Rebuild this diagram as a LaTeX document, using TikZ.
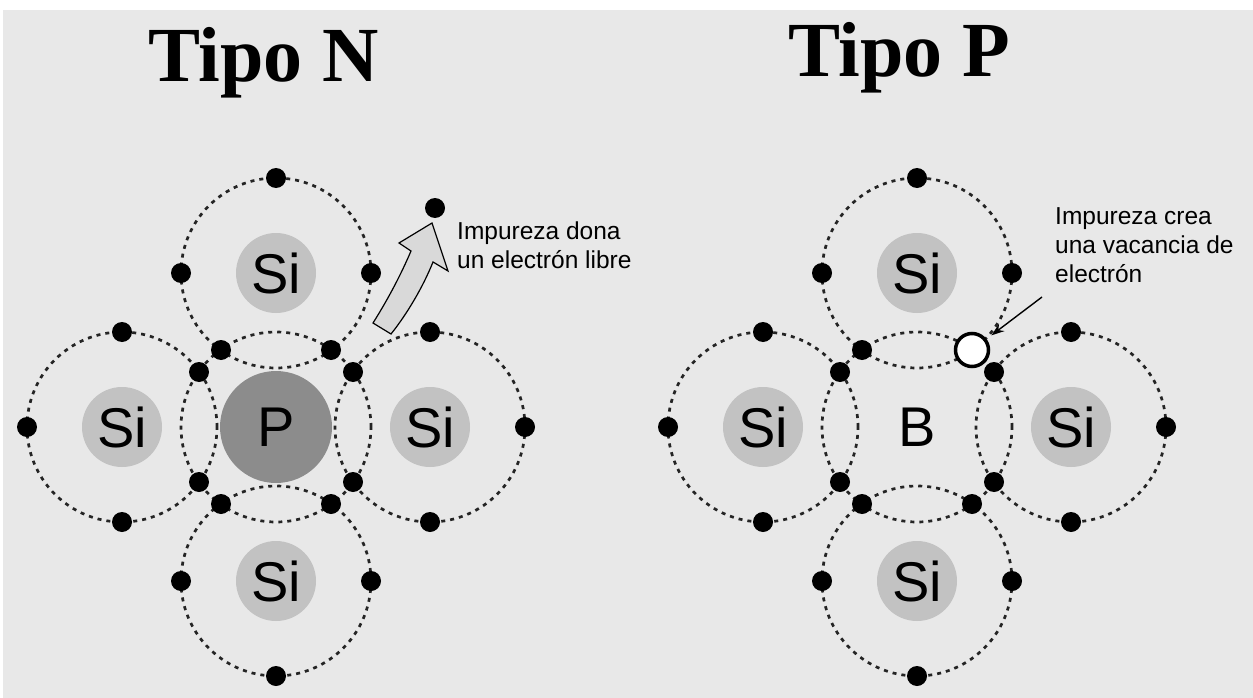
\documentclass[tikz,border=0pt]{standalone}
\usepackage{fontspec}
\setmainfont{Liberation Sans}
\newfontfamily\titlefont{Liberation Serif}
\usetikzlibrary{arrows.meta}

\definecolor{paper}{HTML}{E8E8E8}
\definecolor{siatom}{HTML}{C2C2C2}
\definecolor{patom}{HTML}{8C8C8C}
\definecolor{bondgray}{HTML}{242424}
\definecolor{arrowfill}{HTML}{D9D9D9}

\tikzset{
  bond/.style={bondgray, line width=2.7pt, dash pattern=on 4pt off 5pt},
  electron/.style={circle, fill=black, minimum size=20pt, inner sep=0pt},
  vacancy/.style={circle, fill=white, draw=black, line width=3.5pt, minimum size=33pt, inner sep=0pt},
  silicon/.style={circle, fill=siatom, minimum size=80pt, inner sep=0pt,
                  font=\fontsize{56}{56}\selectfont},
  dopant/.style={circle, minimum size=112pt, inner sep=0pt,
                 font=\fontsize{56}{56}\selectfont},
  heading/.style={anchor=base west, inner sep=0pt,
                  font=\titlefont\bfseries\fontsize{78}{78}\selectfont},
  note/.style={anchor=base west, align=left, inner sep=0pt,
               font=\fontsize{24.5}{29}\selectfont},
}

% #1 name prefix, #2 centre, #3 centre atom style, #4 centre symbol,
% #5 shared electrons between the centre and its neighbours
\newcommand\lattice[5]{%
  \begin{scope}[shift={#2}]
    \node[#3] (#1c) at (0,0) {#4};
    \node[silicon] (#1t) at (0,-154) {Si};
    \node[silicon] (#1b) at (0,154) {Si};
    \node[silicon] (#1l) at (-154,0) {Si};
    \node[silicon] (#1r) at (154,0) {Si};
    \foreach \a in {c,t,b,l,r}
      \draw[bond] (#1\a.center) circle[radius=95pt];
    \foreach \x/\y [count=\i] in {#5}
      \node[electron] (#1s\i) at (\x,\y) {};
    \foreach \x/\y [count=\i] in {0/-249,-95/-154,95/-154,0/249,-95/154,95/154,
                                  -249/0,-154/-95,-154/95,249/0,154/-95,154/95}
      \node[electron] (#1o\i) at (\x,\y) {};
  \end{scope}}

\begin{document}
\begin{tikzpicture}[x=1pt,y=-1pt]
  \useasboundingbox (0,0) rectangle (1253,698);
  \fill[white] (0,0) rectangle (1253,698);
  \fill[paper] (3,10) rectangle (1253,698);

  \node[heading] (titleN) at (148,82) {Tipo N};
  \node[heading] (titleP) at (788,77) {Tipo P};

  % n-type: phosphorus donor
  \lattice{n}{(276,427)}{dopant, fill=patom}{P}
    {55/-77,-55/-77,55/77,-55/77,-77/-55,-77/55,77/-55,77/55}

  % p-type: boron acceptor, one bond left empty
  \lattice{p}{(917,427)}{dopant}{B}
    {-55/-77,55/77,-55/77,-77/-55,-77/55,77/-55,77/55}
  \node[vacancy] (hole) at (972,350) {};

  % freed electron and bent block arrow
  \node[electron] (free) at (435,208) {};
  \draw[fill=arrowfill, line width=1.2pt, line join=miter]
    (373,323) .. controls (390,296) and (402,272) .. (411,251)
    -- (399,243) -- (432,223) -- (448,271) -- (433,262)
    .. controls (423,287) and (407,314) .. (391,334) -- cycle;
  \node[note] (donor) at (457,268) {Impureza dona\\un electrón libre};

  % pointer to the vacancy
  \coordinate (ptr) at (1042,297);
  \draw[line width=1.4pt, -{Stealth[length=13pt,width=9pt]}, shorten >=6pt]
    (ptr) -- (hole);
  \node[note] (acceptor) at (1055,282) {Impureza crea\\una vacancia de\\electrón};
\end{tikzpicture}
\end{document}
